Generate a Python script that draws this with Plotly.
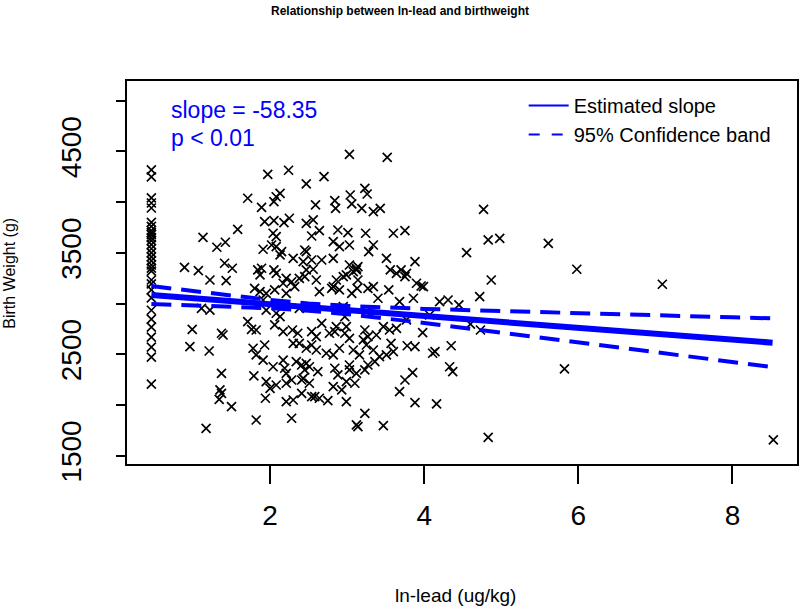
import plotly.graph_objects as go

# ---- data ----
col_x = 0.46
col_y = [4317, 4248, 4041, 3991, 3942, 3800, 3760, 3720, 3700, 3680, 3650, 3620,
         3580, 3540, 3500, 3460, 3420, 3380, 3350, 3320, 3232, 3193, 3134, 3055,
         2934, 2846, 2767, 2669, 2570, 2472, 2206]

lead = [3.03, 3.52, 1.97, 2.24, 2.70, 2.47, 2.13, 2.08, 1.71, 2.05, 3.23, 3.26, 3.04, 2.84,
        1.89, 2.59, 2.85, 3.06, 3.19, 3.34, 3.43, 1.93, 2.05, 2.18, 2.25, 2.47, 2.56, 2.64,
        2.54, 2.88, 3.01, 3.24, 3.60, 3.75, 1.58, 2.04, 2.08, 1.13, 1.31, 1.42, 1.91, 2.02,
        2.08, 2.15, 2.13, 2.45, 2.47, 2.82, 2.90, 3.03, 3.34, 3.28, 2.30, 2.43, 2.54, 2.67,
        2.82, 3.03, 3.12, 3.14, 3.51, 3.88, 4.55, 0.89, 1.07, 1.22, 1.43, 1.41, 1.51, 1.84,
        1.89, 1.87, 2.05, 2.08, 2.21, 2.28, 2.38, 2.45, 2.47, 2.56, 2.60, 2.82, 2.86, 2.95,
        2.99, 3.08, 3.12, 3.14, 3.56, 3.64, 3.70, 3.75, 3.77, 3.90, 3.96, 3.99, 1.80, 1.87,
        1.95, 2.06, 2.17, 2.21, 2.32, 2.64, 2.80, 2.90, 3.06, 3.13, 3.27, 3.34, 3.40, 3.54,
        3.86, 1.11, 1.22, 1.95, 2.08, 1.91, 2.38, 2.95, 2.97, 3.25, 3.68, 3.77, 4.07, 4.20,
        4.31, 4.45, 1.71, 1.76, 1.82, 2.06, 2.13, 2.17, 0.99, 1.37, 1.39, 2.29, 2.36, 2.30,
        2.38, 2.54, 2.60, 2.67, 2.47, 2.54, 2.60, 2.77, 2.84, 2.86, 2.97, 2.99, 3.03, 3.23,
        3.27, 3.25, 3.38, 3.47, 3.55, 3.64, 3.98, 3.78, 3.88, 4.11, 4.14, 4.35, 0.96, 1.21,
        1.78, 1.82, 1.93, 2.73, 2.82, 2.90, 3.08, 3.16, 3.21, 3.34, 3.42, 3.51, 3.57, 3.60,
        1.91, 2.04, 2.17, 2.19, 2.21, 2.34, 2.41, 2.47, 2.51, 2.45, 2.62, 2.84, 2.88, 3.03,
        3.03, 3.12, 3.23, 3.27, 3.36, 1.37, 1.79, 3.85, 3.75, 3.68, 4.33, 4.37, 1.35, 1.37,
        1.34, 1.50, 1.95, 2.00, 1.94, 2.08, 2.21, 2.28, 2.41, 2.43, 2.51, 2.41, 2.54, 2.58,
        2.64, 2.75, 2.82, 2.93, 2.99, 3.10, 2.21, 2.30, 2.99, 3.88, 4.16, 1.17, 1.82, 2.28,
        3.12, 3.14, 3.23, 3.47, 4.77, 4.83, 4.98, 5.61, 5.98, 4.87, 7.09, 4.72, 4.60, 4.73,
        5.82, 4.83, 8.53]

bw = [4471, 4442, 4274, 4314, 4251, 4179, 4087, 4053, 4038, 4004, 4136, 4080, 4070, 4014,
      3949, 3972, 3939, 3982, 3939, 3906, 3939, 3807, 3817, 3797, 3841, 3791, 3824, 3718,
      3666, 3725, 3699, 3693, 3693, 3718, 3732, 3693, 3659, 3653, 3555, 3604, 3535, 3577,
      3561, 3511, 3479, 3528, 3511, 3610, 3561, 3577, 3577, 3511, 3446, 3413, 3429, 3429,
      3446, 3380, 3348, 3363, 3446, 3413, 3501, 3357, 3324, 3232, 3225, 3397, 3348, 3331,
      3348, 3282, 3331, 3298, 3249, 3215, 3249, 3265, 3331, 3338, 3232, 3166, 3232, 3265,
      3282, 3314, 3331, 3232, 3331, 3298, 3331, 3265, 3298, 3200, 3173, 3166, 3150, 3117,
      3101, 3134, 3200, 3101, 3166, 3117, 3150, 3134, 3101, 3150, 3150, 3166, 3052, 3134,
      3052, 2953, 2936, 2936, 2904, 3035, 2953, 2969, 2870, 2920, 3018, 2838, 2887, 3018,
      3035, 2986, 2821, 2746, 2739, 2789, 2870, 2723, 2746, 2707, 2690, 2739, 2707, 2608,
      2608, 2723, 2673, 2805, 2559, 2591, 2542, 2707, 2723, 2772, 2707, 2772, 2657, 2739,
      2673, 2591, 2690, 2772, 2739, 2756, 2713, 2584, 2575, 2510, 2525, 2584, 2575, 2532,
      2559, 2493, 2591, 2510, 2493, 2559, 2542, 2493, 2641, 2542, 2476, 2493, 2608, 2525,
      2443, 2377, 2443, 2362, 2312, 2427, 2394, 2411, 2377, 2345, 2328, 2362, 2296, 2394,
      2345, 2312, 2345, 2394, 2427, 2312, 2286, 2318, 2246, 2131, 2377, 2328, 2148, 2115,
      2056, 1983, 2230, 2164, 2066, 2197, 2214, 2246, 2246, 2263, 2214, 2115, 2082, 2082,
      2066, 2042, 2180, 2148, 2230, 2214, 2032, 2049, 2032, 2023, 2010, 1770, 1852, 1869,
      1803, 1786, 1918, 1796, 3929, 3627, 3643, 3594, 3338, 3232, 3190, 3068, 2798, 2739,
      2355, 1681, 1655]

# fitted line and 95% confidence band
fit_x = [0.46, 1.0, 2.0, 2.5, 3.0, 4.0, 5.0, 6.0, 7.0, 8.0, 8.52]
fit_y = [3084, 3053, 2994, 2965, 2936, 2878, 2819, 2761, 2703, 2644, 2614]
ci_upper = [3172, 3122, 3035, 3001, 2977, 2947, 2924, 2903, 2884, 2864, 2854]
ci_lower = [2996, 2984, 2954, 2929, 2895, 2809, 2715, 2618, 2522, 2425, 2374]

slope_text = "slope = -58.35"
p_text = "p < 0.01"

x_ticks = [2, 4, 6, 8]
y_ticks = [1500, 2000, 2500, 3000, 3500, 4000, 4500, 5000]
y_ticktext = ["1500", "", "2500", "", "3500", "", "4500", ""]

BLUE = "#0000FF"
FONT = "Liberation Sans, Arial, sans-serif"

all_x = [col_x] * len(col_y) + lead
all_y = col_y + bw

fig = go.Figure()
fig.add_trace(go.Scatter(
    x=all_x, y=all_y, mode="markers", showlegend=False,
    marker=dict(symbol="x-thin", size=9, color="black",
                line=dict(color="black", width=1.7)),
))
fig.add_trace(go.Scatter(x=fit_x, y=fit_y, mode="lines", showlegend=False,
                         line=dict(color=BLUE, width=6)))
fig.add_trace(go.Scatter(x=fit_x, y=ci_upper, mode="lines", showlegend=False,
                         line=dict(color=BLUE, width=4, dash="20px,10px")))
fig.add_trace(go.Scatter(x=fit_x, y=ci_lower, mode="lines", showlegend=False,
                         line=dict(color=BLUE, width=4, dash="20px,10px")))
# legend entries
fig.add_trace(go.Scatter(x=[None], y=[None], mode="lines", name="Estimated slope",
                         line=dict(color=BLUE, width=2)))
fig.add_trace(go.Scatter(x=[None], y=[None], mode="lines", name="95% Confidence band",
                         line=dict(color=BLUE, width=2, dash="11px,12px")))

axis_common = dict(showline=True, linecolor="black", linewidth=1.5, mirror=True,
                   showgrid=False, zeroline=False, ticks="outside",
                   tickcolor="black", tickwidth=1.5,
                   tickfont=dict(family=FONT, size=28, color="black"))

fig.update_xaxes(range=[0.144, 8.837], tickvals=x_ticks, ticklen=18,
                 ticklabelstandoff=8, **axis_common)
fig.update_yaxes(range=[1418, 5194], tickvals=y_ticks, ticktext=y_ticktext,
                 ticklen=9, tickangle=-90, ticklabelstandoff=24, **axis_common)

W, H = 800, 609
L, R, T, B = 127.3, 2.7, 81, 145
pw, ph = W - L - R, H - T - B

def px(xp):
    return (xp - L) / pw

def py(yp):
    return (H - B - yp) / ph

annotations = [
    dict(text="<b>Relationship between ln-lead and birthweight</b>", x=px(400.7), y=py(11),
         xref="paper", yref="paper", showarrow=False, xanchor="center", yanchor="middle",
         font=dict(family=FONT, size=12, color="black")),
    dict(text="ln-lead (ug/kg)", x=px(456), y=py(595), xref="paper", yref="paper",
         showarrow=False, xanchor="center", yanchor="middle",
         font=dict(family=FONT, size=19, color="black")),
    dict(text="Birth Weight (g)", x=px(9), y=py(273), xref="paper", yref="paper",
         showarrow=False, xanchor="center", yanchor="middle", textangle=-90,
         font=dict(family=FONT, size=16, color="black")),
    dict(text=slope_text, x=px(169), y=py(110), xref="paper", yref="paper",
         showarrow=False, xanchor="left", yanchor="middle",
         font=dict(family=FONT, size=23, color=BLUE)),
    dict(text=p_text, x=px(169), y=py(138), xref="paper", yref="paper",
         showarrow=False, xanchor="left", yanchor="middle",
         font=dict(family=FONT, size=23, color=BLUE)),
]

fig.update_layout(
    width=W, height=H,
    margin=dict(l=L, r=R, t=T, b=B),
    paper_bgcolor="white", plot_bgcolor="white",
    annotations=annotations,
    showlegend=True,
    legend=dict(x=px(524), y=py(86), xanchor="left", yanchor="top",
                bgcolor="rgba(0,0,0,0)", borderwidth=0,
                font=dict(family=FONT, size=20, color="black"),
                tracegroupgap=0, itemwidth=40),
)

fig.write_html("out.html", config={"displayModeBar": False},
               post_script="document.body.style.margin='0px';document.body.style.overflow='hidden';")
